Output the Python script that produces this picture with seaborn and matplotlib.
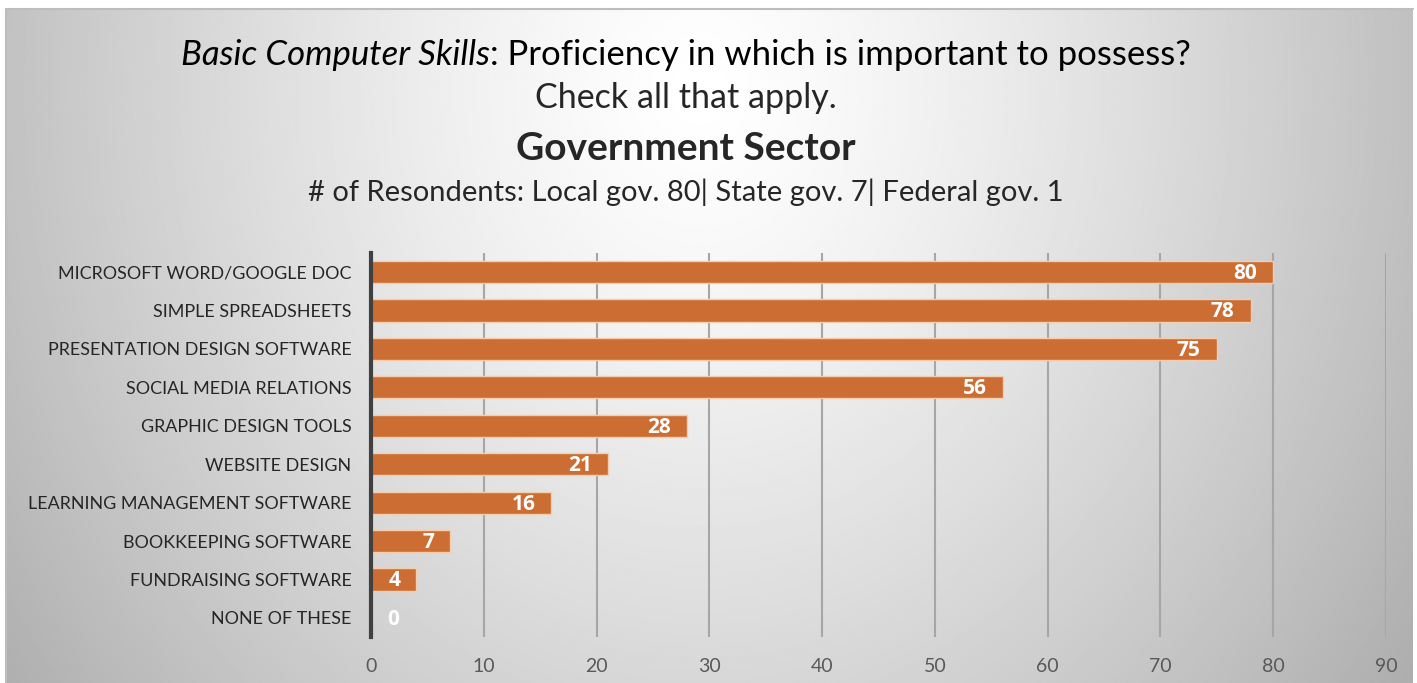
import numpy as np
import matplotlib
matplotlib.use("Agg")
import matplotlib.pyplot as plt
import seaborn as sns

# Survey responses (government sector)
categories = [
    "MICROSOFT WORD/GOOGLE DOC",
    "SIMPLE SPREADSHEETS",
    "PRESENTATION DESIGN SOFTWARE",
    "SOCIAL MEDIA RELATIONS",
    "GRAPHIC DESIGN TOOLS",
    "WEBSITE DESIGN",
    "LEARNING MANAGEMENT SOFTWARE",
    "BOOKKEEPING SOFTWARE",
    "FUNDRAISING SOFTWARE",
    "NONE OF THESE",
]
counts = [80, 78, 75, 56, 28, 21, 16, 7, 4, 0]
x_ticks = [0, 10, 20, 30, 40, 50, 60, 70, 80, 90]

title_italic = "Basic Computer Skills"
title_rest = ": Proficiency in which is important to possess?"
title_line2 = "Check all that apply."
title_line3 = "Government Sector"
title_line4 = "# of Resondents: Local gov. 80| State gov. 7| Federal gov. 1"

sns.set_style("white")
plt.rcParams["font.family"] = ["Lato", "DejaVu Sans"]

W, H = 1417, 683
fig = plt.figure(figsize=(W / 100, H / 100), dpi=100)
fig.patch.set_facecolor("white")

# Panel with a soft radial gray gradient
px0, px1, py0, py1 = 6, 1413, 9, 683
bg = fig.add_axes([px0 / W, 0, (px1 - px0) / W, (py1 - py0) / H], zorder=-5)
gx = np.linspace(px0, px1, 700)
gy = np.linspace(py0, py1, 340)
XX, YY = np.meshgrid(gx, gy)
cx, cy = 700, 90
d = np.sqrt(((XX - cx) / 720.0) ** 2 + ((YY - cy) / 850.0) ** 2)
val = np.clip(1.0 - 0.25 * d ** 1.3, 0, 1)
bg.imshow(val, cmap="gray", vmin=0, vmax=1, aspect="auto",
          extent=[0, 1, 1, 0], interpolation="bilinear")
bg.set_xlim(0, 1)
bg.set_ylim(1, 0)
bg.axis("off")
# thin frame line on top and left of the panel
fig.add_artist(plt.Line2D([px0 / W, px1 / W], [1 - py0 / H, 1 - py0 / H],
                          color="#bdbdbd", lw=1.5, transform=fig.transFigure))
fig.add_artist(plt.Line2D([px0 / W, px0 / W], [0, 1 - py0 / H],
                          color="#bdbdbd", lw=1.5, transform=fig.transFigure))

# Main bar axes
left, right = 371, 1386
top, bottom = 252.8, 637.2
ax = fig.add_axes([left / W, 1 - bottom / H, (right - left) / W, (bottom - top) / H])
ax.patch.set_alpha(0)

bar_color = "#CC6E33"
sns.barplot(x=counts, y=categories, orient="h", color=bar_color, width=0.58,
            edgecolor="#F3CDAE", linewidth=1.0, saturation=1, ax=ax, zorder=3)

ax.set_xlim(0, 90)
ax.set_ylim(len(categories) - 0.5, -0.5)
ax.set_xticks(x_ticks)
ax.set_xticklabels([str(t) for t in x_ticks], fontsize=14, color="#595959")
ax.tick_params(axis="x", length=0, pad=15)
ax.tick_params(axis="y", length=0, pad=14, labelsize=12.9, labelcolor="#262626")
ax.set_xlabel("")
ax.set_ylabel("")
ax.grid(axis="x", color="#a6a6a6", lw=1.5, zorder=1)
ax.grid(axis="y", visible=False)
for s in ["top", "right", "bottom"]:
    ax.spines[s].set_visible(False)
ax.spines["left"].set_color("#404040")
ax.spines["left"].set_linewidth(3)
ax.spines["left"].set_zorder(4)

# Value labels at the inside end of each bar
for i, v in enumerate(counts):
    ax.annotate(str(v), xy=(max(v, 3.9), i), xytext=(-11.5, -1),
                textcoords="offset points", ha="right", va="center",
                color="white", fontsize=15, fontweight="bold",
                family=["Open Sans", "DejaVu Sans"], zorder=5)

# Title block
xc = 686 / W
fig.canvas.draw()
r = fig.canvas.get_renderer()
t1 = fig.text(0, 1 - 55 / H, title_italic, fontsize=25, style="italic",
              ha="left", va="center", color="black")
t2 = fig.text(0, 1 - 55 / H, title_rest, fontsize=25,
              ha="left", va="center", color="black")
w1 = t1.get_window_extent(r).width
w2 = t2.get_window_extent(r).width
x_start = xc * W - (w1 + w2) / 2
t1.set_x(x_start / W)
t2.set_x((x_start + w1) / W)
fig.text(xc, 1 - 98 / H, title_line2, fontsize=24.5, ha="center", va="center")
fig.text(xc, 1 - 148 / H, title_line3, fontsize=28, fontweight="bold",
         ha="center", va="center")
fig.text(xc, 1 - 192 / H, title_line4, fontsize=21, ha="center", va="center")

fig.savefig("out.png", dpi=100)
